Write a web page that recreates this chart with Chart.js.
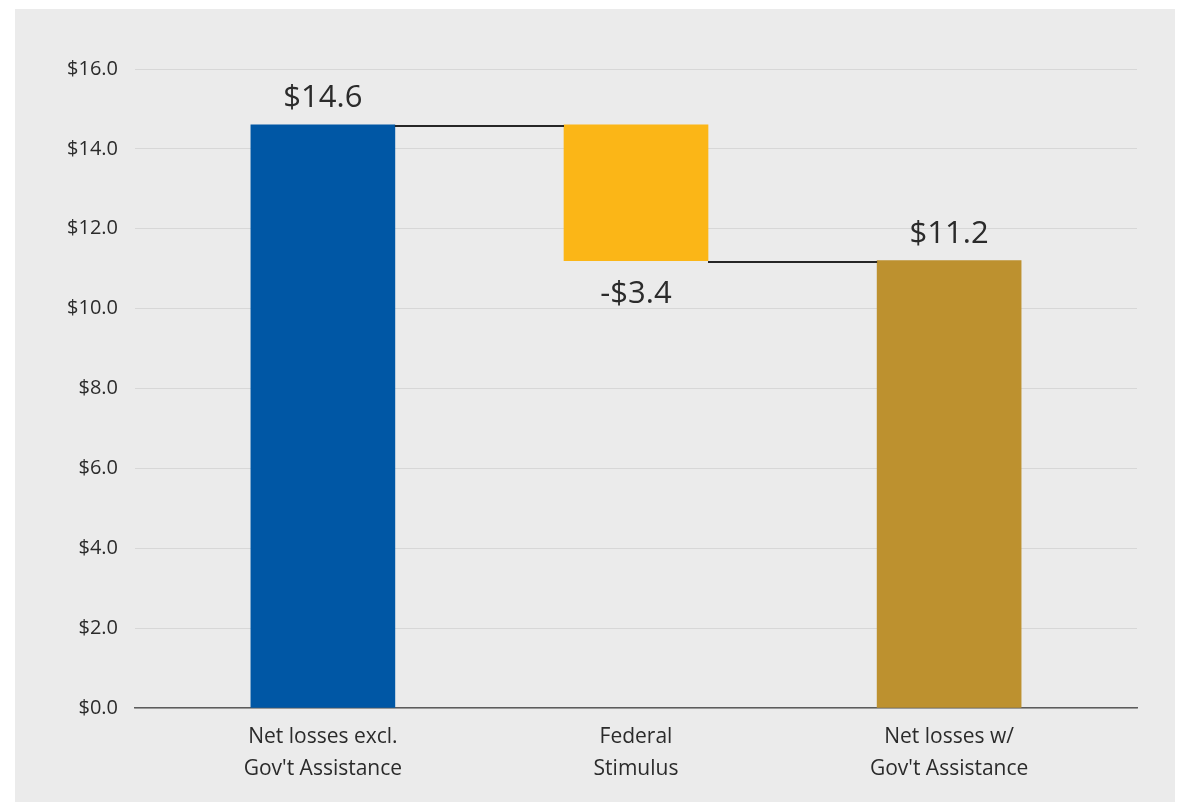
<!DOCTYPE html>
<html>
<head>
<meta charset="utf-8">
<script src="https://cdn.jsdelivr.net/npm/chart.js@4.4.1/dist/chart.umd.min.js"></script>
<style>
    html, body { margin: 0; padding: 0; background: #ffffff; }
    #wrap {
        position: absolute;
        left: 15px;
        top: 9px;
        width: 1160px;
        height: 793px;
        background: #ebebeb;
    }
</style>
</head>
<body>
<div id="wrap"><canvas id="waterfall"></canvas></div>
<script>
(function () {
    "use strict";

    // Data
    const categories = [
        ["Net losses excl.", "Gov't Assistance"],
        ["Federal", "Stimulus"],
        ["Net losses w/", "Gov't Assistance"],
    ];
    const steps = [14.6, -3.4];   // start value, then changes
    const total = 11.2;           // ending bar
    const yTicks = [0, 2, 4, 6, 8, 10, 12, 14, 16];

    const barColors = ["#0057a5", "#fbb617", "#bd912f"];
    const textColor = "#2b2b2b";
    const fontFamily = "'Open Sans', 'Noto Sans', sans-serif";

    // floating ranges for the waterfall
    const ranges = [];
    const labels = [];
    let running = 0;
    steps.forEach((v, i) => {
        const from = running;
        running += v;
        ranges.push({ x: i, y: [Math.min(from, running), Math.max(from, running)] });
        labels.push((v < 0 ? "-$" : "$") + Math.abs(v).toFixed(1));
    });
    ranges.push({ x: steps.length, y: [0, total] });
    labels.push("$" + total.toFixed(1));

    const levels = [];
    running = 0;
    steps.forEach((v) => {
        running += v;
        levels.push(running);
    });

    // connectors between bars
    const connectors = {
        id: "connectors",
        afterDatasetsDraw(chart) {
            const ctx = chart.ctx;
            const bars = chart.getDatasetMeta(0).data;
            const y = chart.scales.y;
            ctx.save();
            ctx.strokeStyle = "#262626";
            ctx.lineWidth = 2;
            levels.forEach((lvl, i) => {
                const a = bars[i];
                const b = bars[i + 1];
                const py = Math.round(y.getPixelForValue(lvl)) + 1;
                ctx.beginPath();
                ctx.moveTo(a.x + a.width / 2, py);
                ctx.lineTo(b.x - b.width / 2, py);
                ctx.stroke();
            });
            ctx.restore();
        },
    };

    // value labels
    const valueLabels = {
        id: "valueLabels",
        afterDatasetsDraw(chart) {
            const ctx = chart.ctx;
            const bars = chart.getDatasetMeta(0).data;
            ctx.save();
            ctx.font = "31px " + fontFamily;
            ctx.fillStyle = textColor;
            ctx.textAlign = "center";
            ctx.textBaseline = "middle";
            bars.forEach((bar, i) => {
                const neg = i > 0 && i < steps.length && steps[i] < 0;
                const ty = neg ? bar.base + 33 : bar.y - 27;
                ctx.fillText(labels[i], bar.x, ty);
            });
            ctx.restore();
        },
    };

    const ctx = document.getElementById("waterfall").getContext("2d");
    new Chart(ctx, {
        type: "bar",
        data: {
            datasets: [
                {
                    data: ranges,
                    backgroundColor: barColors,
                    borderWidth: 0,
                    barThickness: 144,
                    borderSkipped: false,
                },
            ],
        },
        options: {
            responsive: true,
            maintainAspectRatio: false,
            animation: false,
            layout: {
                padding: { left: 0, top: 60, right: 38, bottom: 0 },
            },
            plugins: {
                legend: { display: false },
                tooltip: { enabled: false },
            },
            scales: {
                x: {
                    type: "linear",
                    offset: false,
                    min: -0.6,
                    max: 2.6,
                    afterBuildTicks: (scale) => {
                        scale.ticks = categories.map((c, i) => ({ value: i }));
                    },
                    afterFit: (scale) => {
                        scale.height = 94;
                    },
                    ticks: {
                        callback: (value) => categories[value],
                        color: textColor,
                        font: { family: fontFamily, size: 21, lineHeight: 1.52 },
                        padding: 13,
                        maxRotation: 0,
                        autoSkip: false,
                    },
                    grid: { display: false, drawTicks: false, offset: false },
                    border: { display: true, color: "#5c5c5c", width: 1.5 },
                },
                y: {
                    min: 0,
                    max: 16,
                    afterBuildTicks: (scale) => {
                        scale.ticks = yTicks.map((v) => ({ value: v }));
                    },
                    afterFit: (scale) => {
                        scale.width = 120;
                    },
                    ticks: {
                        callback: (value) => "$" + value.toFixed(1),
                        color: textColor,
                        font: { family: fontFamily, size: 20 },
                        padding: 17,
                    },
                    grid: {
                        color: "#d7d7d7",
                        lineWidth: 1,
                        drawTicks: false,
                    },
                    border: { display: false },
                },
            },
        },
        plugins: [connectors, valueLabels],
    });
})();
</script>
</body>
</html>
